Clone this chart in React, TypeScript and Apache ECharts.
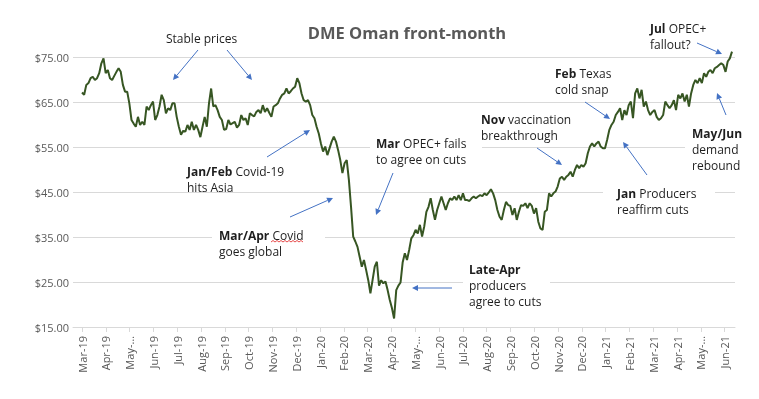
import React, { useEffect, useRef } from 'react';
import * as echarts from 'echarts';

// Month tick labels (x axis)
const monthLabels = [
  'Mar-19', 'Apr-19', 'May-…', 'Jun-19', 'Jul-19', 'Aug-19', 'Sep-19', 'Oct-19', 'Nov-19', 'Dec-19',
  'Jan-20', 'Feb-20', 'Mar-20', 'Apr-20', 'May-…', 'Jun-20', 'Jul-20', 'Aug-20', 'Sep-20', 'Oct-20',
  'Nov-20', 'Dec-20', 'Jan-21', 'Feb-21', 'Mar-21', 'Apr-21', 'May-…', 'Jun-21',
];

// DME Oman front-month prices ($/bbl)
const pricesMar19toSep19 = [
  67.1, 66.6, 68.8, 69.2, 70.3, 70.6, 69.9, 70.3, 71.4, 73.6, 74.7, 71.4, 72.1, 70.3, 69.9, 70.8, 71.7, 72.5,
  71.7, 68.8, 67.3, 67.3, 64.7, 61.0, 60.2, 59.5, 61.7, 59.9, 60.6, 59.9, 64.0, 63.2, 64.3, 65.1, 61.0, 62.1,
  64.0, 66.6, 65.4, 62.5, 63.6, 63.2, 64.7, 64.7, 61.7, 59.5, 57.7, 58.6, 58.4, 59.9, 58.8, 60.6, 58.8, 59.9,
  58.8, 57.2, 59.5, 61.7, 59.5, 64.7, 68.0, 64.0, 64.3, 63.2, 61.7, 61.0, 58.8, 59.0, 61.0, 60.0, 60.3, 60.6,
  59.3, 59.9, 62.1, 61.0,
];
const pricesOct19toApr20 = [
  61.4, 59.9, 62.5, 62.1, 61.8, 62.8, 63.2, 62.5, 64.3, 62.8, 63.6, 62.6, 61.7, 64.0, 64.3, 64.7, 65.8, 66.6,
  66.9, 68.0, 66.9, 67.4, 68.0, 68.4, 70.3, 69.2, 66.9, 65.4, 65.1, 65.4, 64.3, 62.1, 61.4, 59.5, 58.0, 55.8,
  54.0, 55.1, 53.2, 54.7, 56.2, 57.3, 56.2, 54.3, 52.1, 49.2, 51.4, 52.1, 47.7, 41.7, 35.1, 34.0, 32.8, 30.6,
  28.4, 29.9, 27.7, 25.4, 22.5, 25.4, 28.4, 29.5, 24.2, 25.4, 24.7, 25.1, 23.2, 21.0, 19.2, 16.9, 23.2, 24.2,
  24.9, 29.4,
];
const pricesApr20toNov20 = [
  31.4, 29.9, 32.1, 34.7, 35.4, 36.6, 35.8, 37.7, 35.1, 37.3, 40.6, 41.7, 43.6, 41.0, 38.8, 41.0, 42.5, 44.0,
  42.5, 41.0, 42.5, 43.6, 43.2, 44.0, 43.2, 44.3, 43.2, 44.7, 43.2, 43.2, 43.0, 43.6, 44.0, 43.6, 44.0, 44.3,
  44.1, 44.7, 44.3, 44.9, 45.6, 44.7, 43.2, 41.0, 39.5, 38.8, 41.0, 42.8, 42.1, 41.9, 39.9, 41.4, 38.8, 40.6,
  42.1, 41.9, 42.5, 41.4, 42.5, 41.9, 40.2, 41.4, 38.4, 36.9, 36.6, 40.6, 41.0, 44.7, 44.0, 44.7, 45.1, 46.2,
  48.0, 48.4, 47.7, 48.4, 48.8, 49.5, 48.4, 49.9, 51.0,
];
const pricesDec20toJul21 = [
  50.3, 51.0, 50.6, 51.4, 53.6, 55.1, 55.8, 55.1, 55.8, 56.2, 55.1, 54.7, 54.7, 56.6, 58.8, 59.9,
  60.6, 62.1, 62.8, 63.6, 61.0, 63.2, 62.1, 64.3, 65.1, 61.4, 66.9, 68.0, 65.8, 67.7, 64.0, 65.1, 63.2, 62.1,
  62.8, 63.2, 61.7, 61.0, 61.4, 62.1, 65.1, 64.3, 63.6, 64.3, 65.4, 63.2, 66.6, 65.8, 66.9, 65.1, 66.6,
  64.0, 66.9, 68.8, 69.9, 69.2, 70.3, 69.2, 71.4, 70.6, 71.7, 72.1, 71.4, 72.5, 72.8, 73.2, 73.6, 73.2, 71.7,
  74.0, 74.7, 76.2,
];
const prices = [...pricesMar19toSep19, ...pricesOct19toApr20, ...pricesApr20toNov20, ...pricesDec20toJul21];
const tradingDays = prices.map((_, i) => String(i));
const monthTickValues = monthLabels.map((_, i) => i);

const FONT = '"Open Sans", "Liberation Sans", sans-serif';
const TEXT_COLOR = '#1e1e1e';
const ARROW_COLOR = '#4472C4';

// Annotations: position, bold part, rest of first line, following lines
const notes: Array<{ x: number; y: number; bold: string; rest: string; lines: string[] }> = [
  { x: 166, y: 30, bold: '', rest: 'Stable prices', lines: [] },
  { x: 187, y: 163, bold: 'Jan/Feb', rest: ' Covid-19', lines: ['hits Asia'] },
  { x: 219, y: 227, bold: 'Mar/Apr', rest: ' Covid', lines: ['goes global'] },
  { x: 376, y: 135, bold: 'Mar', rest: ' OPEC+ fails', lines: ['to agree on cuts'] },
  { x: 481, y: 111, bold: 'Nov', rest: ' vaccination', lines: ['breakthrough'] },
  { x: 555, y: 65, bold: 'Feb', rest: ' Texas', lines: ['cold snap'] },
  { x: 617, y: 185, bold: 'Jan', rest: ' Producers', lines: ['reaffirm cuts'] },
  { x: 692, y: 125, bold: 'May/Jun', rest: '', lines: ['demand', 'rebound'] },
  { x: 650, y: 20, bold: 'Jul', rest: ' OPEC+', lines: ['fallout?'] },
  { x: 469, y: 261, bold: 'Late-Apr', rest: '', lines: ['producers', 'agree to cuts'] },
];
const whiteBoxes: number[][] = [
  [212, 226, 113, 32],
  [370, 134, 112, 32],
  [603, 184, 112, 32],
  [685, 124, 60, 48],
  [463, 260, 87, 48],
];
const arrows: number[][] = [
  [198, 50, 173, 80],
  [227, 50, 252, 80],
  [267, 157, 310, 130],
  [290, 217, 333, 198],
  [393, 173, 376, 215],
  [452, 288, 412, 288],
  [537, 148, 562, 165],
  [585, 102, 610, 119],
  [647, 175, 623, 142],
  [697, 43, 722, 54],
  [726, 115, 717, 93],
];

function arrowEls(a: number[]) {
  const [x1, y1, x2, y2] = a;
  const dx = x2 - x1, dy = y2 - y1;
  const len = Math.hypot(dx, dy);
  const ux = dx / len, uy = dy / len;
  const hl = 6, hw = 3;
  const bx = x2 - ux * hl, by = y2 - uy * hl;
  return [
    { type: 'line', z: 100, shape: { x1, y1, x2: bx, y2: by }, style: { stroke: ARROW_COLOR, lineWidth: 1 } },
    {
      type: 'polygon', z: 100,
      shape: { points: [[x2, y2], [bx - uy * hw, by + ux * hw], [bx + uy * hw, by - ux * hw]] },
      style: { fill: ARROW_COLOR },
    },
  ];
}

export default function App() {
  const ref = useRef<HTMLDivElement>(null);
  useEffect(() => {
    if (!ref.current) return;
    const chart = echarts.init(ref.current, undefined, { renderer: 'svg' });
    const lh = 16;
    const graphics: any[] = [];
    whiteBoxes.forEach(([x, y, w, h]) => {
      graphics.push({ type: 'rect', z: 99, shape: { x, y, width: w, height: h }, style: { fill: '#ffffff' } });
    });
    notes.forEach((n) => {
      const first = (n.bold ? `{b|${n.bold}}` : '') + n.rest;
      const text = [first, ...n.lines].join('\n');
      graphics.push({
        type: 'text', z: 101, x: n.x, y: n.y,
        style: {
          text,
          fontFamily: FONT, fontSize: 12, fill: TEXT_COLOR, lineHeight: lh, verticalAlign: 'top',
          rich: { b: { fontFamily: FONT, fontSize: 12, fontWeight: 'bold', fill: TEXT_COLOR, lineHeight: lh } },
        },
      });
    });
    arrows.forEach((a) => graphics.push(...arrowEls(a)));
    // spell-check squiggle under "Covid"
    const sq: number[][] = [];
    for (let i = 0; i <= 16; i++) sq.push([271 + i * 2, 242 + (i % 2 === 0 ? 0 : -1.5)]);
    graphics.push({ type: 'polyline', z: 101, shape: { points: sq }, style: { stroke: '#e02020', lineWidth: 0.8, fill: null } });
    graphics.push({
      type: 'text', z: 101, x: 407, y: 32,
      style: {
        text: 'DME Oman front-month', fontFamily: FONT, fontSize: 16.5, fontWeight: 'bold', fill: '#595959',
        align: 'center', verticalAlign: 'middle',
      },
    });

    chart.setOption({
      animation: false,
      grid: [
        { left: 73, right: 24, top: 57, bottom: 72 },
        { left: 82, right: 27, top: 57, bottom: 72 },
      ],
      xAxis: [
        {
          gridIndex: 0, type: 'value', min: 0, max: 1,
          axisLine: { show: true, lineStyle: { color: '#d9d9d9' } },
          axisTick: { show: false }, axisLabel: { show: false }, splitLine: { show: false },
        },
        {
          gridIndex: 1, type: 'category', data: tradingDays, boundaryGap: false, show: false,
        },
        {
          gridIndex: 1, type: 'value', min: 0, max: 27.31, position: 'bottom',
          axisLine: { show: false },
          axisTick: { show: true, length: 5, customValues: monthTickValues, lineStyle: { color: '#d9d9d9' } },
          axisLabel: {
            customValues: monthTickValues,
            formatter: (v: number) => monthLabels[Math.round(v)] ?? '',
            rotate: 90, margin: 9, fontFamily: FONT, fontSize: 11, color: '#595959',
          },
          splitLine: { show: false },
        },
      ],
      yAxis: [
        {
          gridIndex: 0, type: 'value', min: 15, max: 75, interval: 10,
          axisLine: { show: false }, axisTick: { show: false },
          axisLabel: { formatter: (v: number) => `$${v.toFixed(2)}`, margin: 4, fontFamily: FONT, fontSize: 11, color: '#595959' },
          splitLine: { lineStyle: { color: '#d9d9d9', width: 1 } },
        },
        { gridIndex: 1, type: 'value', min: 15, max: 75, show: false },
      ],
      series: [
        {
          type: 'line', xAxisIndex: 1, yAxisIndex: 1, data: prices, showSymbol: false, clip: false,
          lineStyle: { color: '#375623', width: 2 }, z: 5,
        },
      ],
      graphic: graphics,
    });
    return () => chart.dispose();
  }, []);
  return <div ref={ref} style={{ position: 'fixed', left: 0, top: 0, width: 759, height: 399 }} />;
}
